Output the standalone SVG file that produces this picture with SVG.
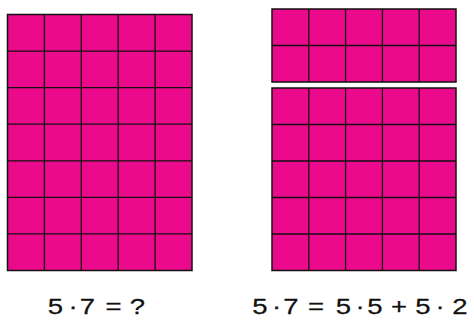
<svg xmlns="http://www.w3.org/2000/svg" width="474" height="322" viewBox="0 0 474 322">
  <style>
    .cell { fill: #EC0A8C; stroke: #111; stroke-width: 1.5; }
    .grid { fill: none; stroke: #111; stroke-width: 1.3; }
    .eq { font-family: "Liberation Sans", Arial, sans-serif; font-size: 22px; fill: #111; stroke: #111; stroke-width: 0.25; text-anchor: middle; }
  </style>
  <rect width="474" height="322" fill="#fff"/>
  <g id="left-grid">
    <rect class="cell" x="7.5" y="14.5" width="184.5" height="256"/>
    <path class="grid" d="M44.4 14.5V270.5M81.3 14.5V270.5M118.2 14.5V270.5M155.1 14.5V270.5M7.5 51.07H192M7.5 87.64H192M7.5 124.21H192M7.5 160.79H192M7.5 197.36H192M7.5 233.93H192"/>
  </g>
  <g id="right-top-grid">
    <rect class="cell" x="272" y="9" width="184" height="73"/>
    <path class="grid" d="M308.8 9V82M345.6 9V82M382.4 9V82M419.2 9V82M272 45.5H456"/>
  </g>
  <g id="right-bottom-grid">
    <rect class="cell" x="272" y="88" width="184" height="182.5"/>
    <path class="grid" d="M308.8 88V270.5M345.6 88V270.5M382.4 88V270.5M419.2 88V270.5M272 124.5H456M272 161H456M272 197.5H456M272 234H456"/>
  </g>
  <g id="labels" transform="scale(1.25,1)">
    <text class="eq" y="314.5"><tspan x="44.4">5</tspan><tspan x="58.4">·</tspan><tspan x="70">7</tspan><tspan x="90.8">=</tspan><tspan x="110">?</tspan></text>
    <text class="eq" y="314.5"><tspan x="208">5</tspan><tspan x="221.2">·</tspan><tspan x="232.8">7</tspan><tspan x="252.8">=</tspan><tspan x="274.8">5</tspan><tspan x="288">·</tspan><tspan x="300">5</tspan><tspan x="319.2">+</tspan><tspan x="338.4">5</tspan><tspan x="352">·</tspan><tspan x="368">2</tspan></text>
  </g>
</svg>
